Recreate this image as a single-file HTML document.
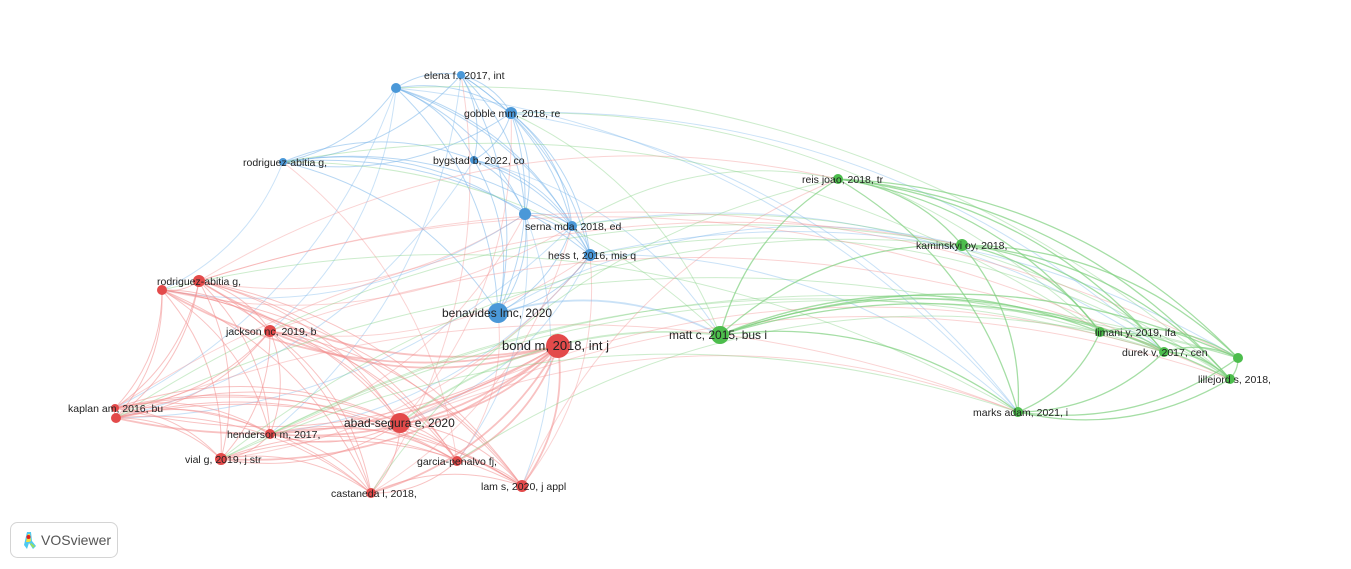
<!DOCTYPE html>
<html><head><meta charset="utf-8">
<style>
html,body{margin:0;padding:0;background:#fff;width:1351px;height:569px;overflow:hidden}
svg{display:block}
text{font-family:"Liberation Sans","DejaVu Sans",sans-serif;fill:#222}
</style></head>
<body>
<svg id="s" width="1351" height="569" viewBox="0 0 1351 569" xmlns="http://www.w3.org/2000/svg">
<g id="edges" fill="none"></g>
<g id="nodes"></g>
<g id="labels"></g>
<rect x="10.5" y="522.5" width="107" height="35" rx="7" fill="#fff" stroke="#d4d4d4"/>
<g transform="translate(20,529)">
<path d="M4 16 L7 3 L11 3 L12 12 L16 17 L13 20 L9 14 L7 20 Z" fill="#4fc9f0"/>
<path d="M6 13 L8 5 L10 5 L11 12 L9 13 Z" fill="#f0e040"/>
<circle cx="8.5" cy="8" r="2" fill="#e02020"/>
<path d="M11 14 L15 17 L13 19 L10 15 Z" fill="#9be060"/>
</g>
<text x="41" y="545" font-size="14" style="fill:#555">VOSviewer</text>
</svg>
<script>
var N=[
[396,88,5,'b',''],[461,75,4,'b','elena f., 2017, int',424],[511,113,6,'b','gobble mm, 2018, re',464],
[283,162,4,'b','rodriguez-abitia g,',243],[474,160,4,'b','bygstad b, 2022, co',433],[525,214,6,'b',''],
[572,226,5,'b','serna mda, 2018, ed',525],[590,255,6,'b','hess t, 2016, mis q',548],[498,313,10,'b','benavides lmc, 2020',442,12],
[558,346,12,'r','bond m, 2018, int j',502,13],[199,281,6,'r','rodriguez-abitia g,',157],[162,290,5,'r',''],
[270,331,6,'r','jackson nc, 2019, b',226],[116,418,5,'r',''],[115,408,4,'r','kaplan am, 2016, bu',68],
[400,423,10,'r','abad-segura e, 2020',344,12],[270,434,5,'r','henderson m, 2017,',227],[221,459,6,'r','vial g, 2019, j str',185],
[457,461,5,'r','garcia-penalvo fj,',417],[371,493,5,'r','castaneda l, 2018,',331],[522,486,6,'r','lam s, 2020, j appl',481],
[720,335,9,'g','matt c, 2015, bus i',669,12],[838,179,5,'g','reis joao, 2018, tr',802],[962,245,6,'g','kaminskyi oy, 2018,',916],
[1100,332,5,'g','limani y, 2019, ifa',1095],[1164,352,5,'g','durek v, 2017, cen',1122],[1238,358,5,'g',''],
[1230,379,5,'g','lillejord s, 2018,',1198],[1018,412,5,'g','marks adam, 2021, i',973]
];
var NC={b:'#4a98d8',r:'#e34a4a',g:'#4cbd4c'},EC={b:'#7bb6ea',r:'#f29090',g:'#7fd07f'};
var ns='http://www.w3.org/2000/svg';
var E=document.getElementById('edges'),ND=document.getElementById('nodes'),L=document.getElementById('labels');
var seed=11;function rnd(){seed=(seed*9301+49297)%233280;return seed/233280;}
for(var i=0;i<N.length;i++)for(var j=i+1;j<N.length;j++){
 var a=N[i],b=N[j];var same=a[3]==b[3];
 if(!same && rnd()>0.22) continue;
 var dx=b[0]-a[0],dy=b[1]-a[1];
 var mx=(a[0]+b[0])/2+dy*0.2,my=(a[1]+b[1])/2-dx*0.2;
 var col=same?EC[a[3]]:EC[(rnd()<0.5)?a[3]:b[3]];
 var p=document.createElementNS(ns,'path');
 p.setAttribute('d','M'+a[0]+' '+a[1]+' Q'+mx+' '+my+' '+b[0]+' '+b[1]);
 p.setAttribute('stroke',col);
 p.setAttribute('stroke-opacity',same?(a[3]=='g'?0.7:0.55):0.4);
 p.setAttribute('stroke-width',(a[2]+b[2]>16)?1.8:(a[3]=='g'&&same?1.3:1));
 E.appendChild(p);
}
N.forEach(function(n){
 var c=document.createElementNS(ns,'circle');c.setAttribute('cx',n[0]);c.setAttribute('cy',n[1]);c.setAttribute('r',n[2]);
 c.setAttribute('fill',NC[n[3]]);ND.appendChild(c);
 if(n[4]){var t=document.createElementNS(ns,'text');t.setAttribute('x',n[5]);t.setAttribute('y',n[1]+4);
 t.setAttribute('font-size',n[6]||10.5);t.textContent=n[4];L.appendChild(t);}
});
</script>
</body></html>
